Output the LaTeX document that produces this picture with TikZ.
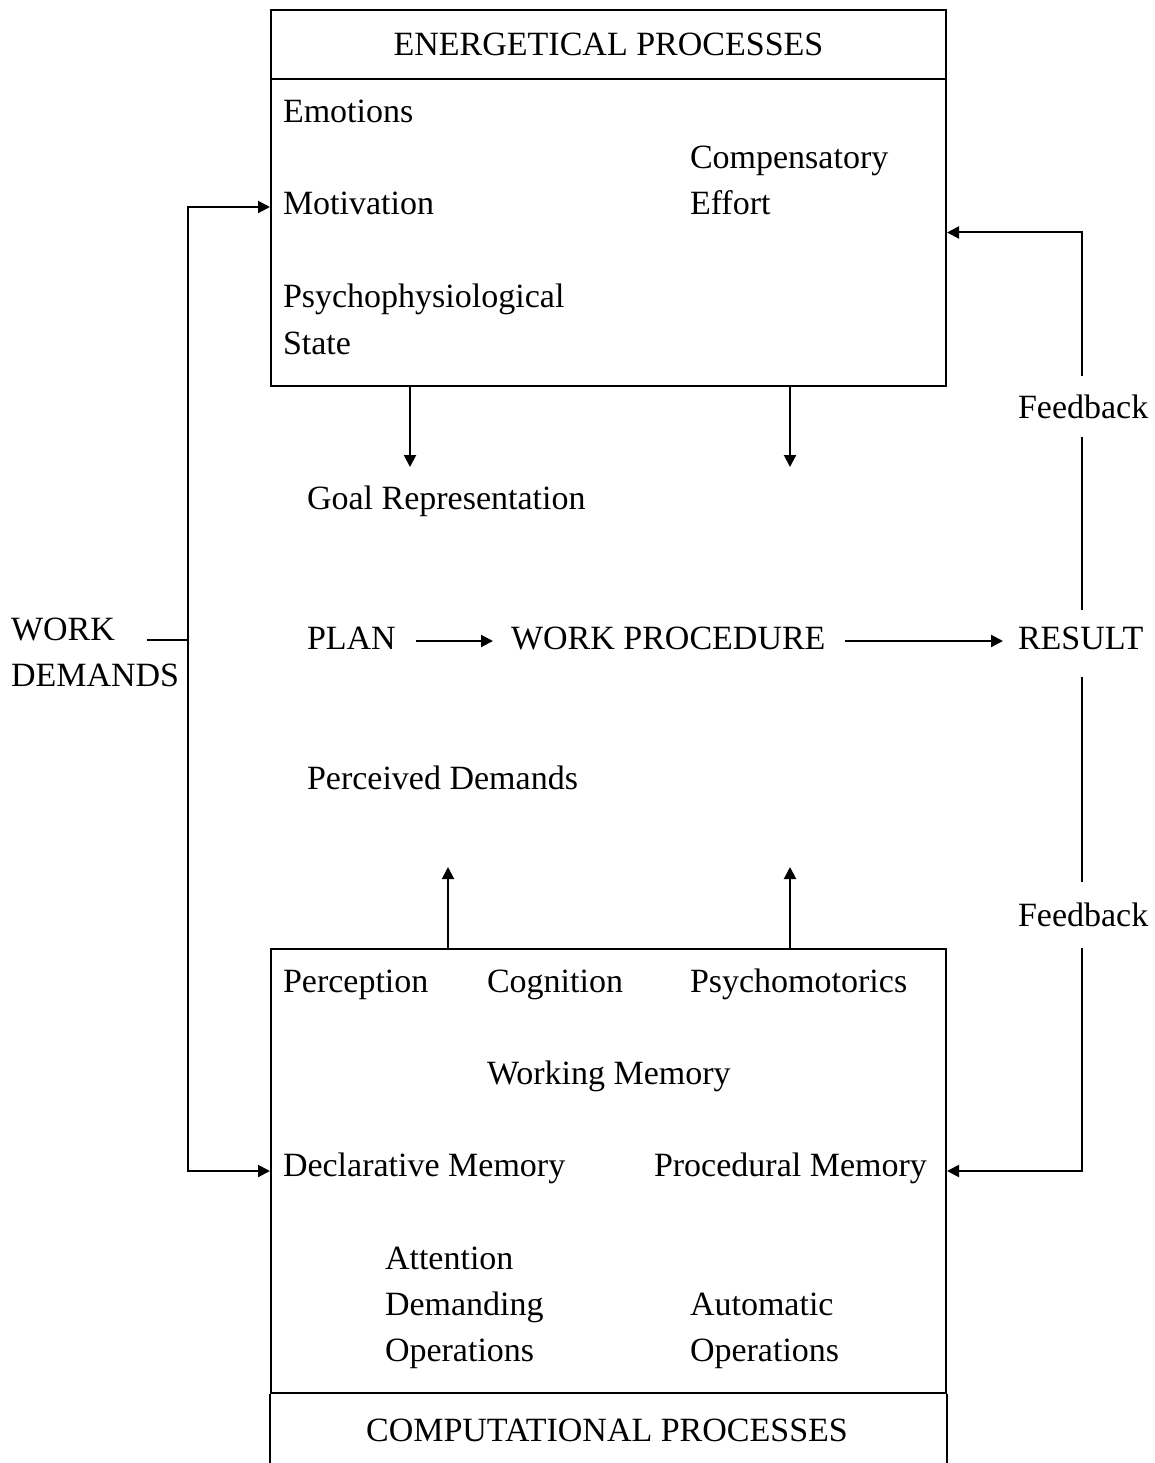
\documentclass[tikz,border=0pt]{standalone}
\usepackage{fontspec}
\setmainfont{Liberation Serif}
\usetikzlibrary{arrows.meta}
\begin{document}
\begin{tikzpicture}[x=1pt,y=-1pt,line width=2pt,
  >={Triangle[length=12pt,width=12pt]},
  txt/.style={inner sep=0pt,anchor=west,text height=23pt,text depth=7pt,
    yshift=-3pt,font=\fontsize{34}{46}\selectfont},
  boxpart/.style={draw,inner sep=0pt,minimum width=675pt,anchor=north west,
    font=\fontsize{34}{46}\selectfont}]
\useasboundingbox (0,0) rectangle (1155,1463);

% energetical processes box
\node[boxpart,minimum height=69pt] (enh) at (270,9) {\raisebox{-2pt}{ENERGETICAL PROCESSES}};
\node[boxpart,minimum height=307pt] (enb) at (270,78) {};
\node[txt] (emo) at (282,112) {Emotions};
\node[txt] (mot) at (282,204) {Motivation};
\node[txt] (psy) at (282,296) {Psychophysiological};
\node[txt] (sta) at (282,343) {State};
\node[txt] (com) at (689,158) {Compensatory};
\node[txt] (eff) at (689,204) {Effort};

% middle row
\node[txt] (goal) at (306,498) {Goal Representation};
\node[txt] (plan) at (306,638) {PLAN};
\node[txt] (wp) at (510,638) {WORK PROCEDURE};
\node[txt] (res) at (1017,638) {RESULT};
\node[txt] (perc) at (306,778) {Perceived Demands};
\node[txt] (fb1) at (1017,407) {Feedback};
\node[txt] (fb2) at (1017,915) {Feedback};
\node[inner sep=0pt,anchor=west,align=left,font=\fontsize{34}{46}\selectfont] (wd) at (10,652) {WORK\\DEMANDS};

% computational processes box
\node[boxpart,minimum height=444pt] (cpb) at (270,948) {};
\draw (cpb.south west) -- ++(0,90);
\draw (cpb.south east) -- ++(0,90);
\node[txt,anchor=center] (cph) at (607,1430) {COMPUTATIONAL PROCESSES};
\node[txt] (pcp) at (282,981) {Perception};
\node[txt] (cog) at (486,981) {Cognition};
\node[txt] (pmo) at (689,981) {Psychomotorics};
\node[txt] (wm) at (486,1073) {Working Memory};
\node[txt] (dm) at (282,1165) {Declarative Memory};
\node[txt] (pm) at (653,1165) {Procedural Memory};
\node[txt] (att) at (384,1258) {Attention};
\node[txt] (dem) at (384,1304) {Demanding};
\node[txt] (op1) at (384,1350) {Operations};
\node[txt] (aut) at (689,1304) {Automatic};
\node[txt] (op2) at (689,1350) {Operations};

% influences from the two boxes
\coordinate (d1) at (410,467);
\coordinate (d2) at (790,467);
\coordinate (u1) at (448,867);
\coordinate (u2) at (790,867);
\draw[->] (enb.south -| d1) -- (d1);
\draw[->] (enb.south -| d2) -- (d2);
\draw[->] (cpb.north -| u1) -- (u1);
\draw[->] (cpb.north -| u2) -- (u2);

% main flow
\draw[->,shorten <=19pt,shorten >=17pt] (plan.east) -- (wp.west);
\draw[->,shorten <=18pt,shorten >=14pt] (wp.east) -- (res.west);

% feedback loops: the line breaks round each label
\coordinate (r1) at (1082,610);
\coordinate (f1s) at (1082,437);
\coordinate (f1n) at (1082,376);
\coordinate (r2) at (1082,677);
\coordinate (f2n) at (1082,882);
\coordinate (f2s) at (1082,948);
\draw (r1) -- (f1s);
\draw[->] (f1n) |- (enb.east);
\draw (r2) -- (f2n);
\draw[->] (f2s) |- (cpb.east);

% work demands
\coordinate (wds) at (147,640);
\coordinate (wdj) at (188,640);
\draw (wds) -- (wdj);
\draw[->] (wdj) |- (enb.west |- mot.west);
\draw[->] (wdj) |- (cpb.west);
\end{tikzpicture}
\end{document}
